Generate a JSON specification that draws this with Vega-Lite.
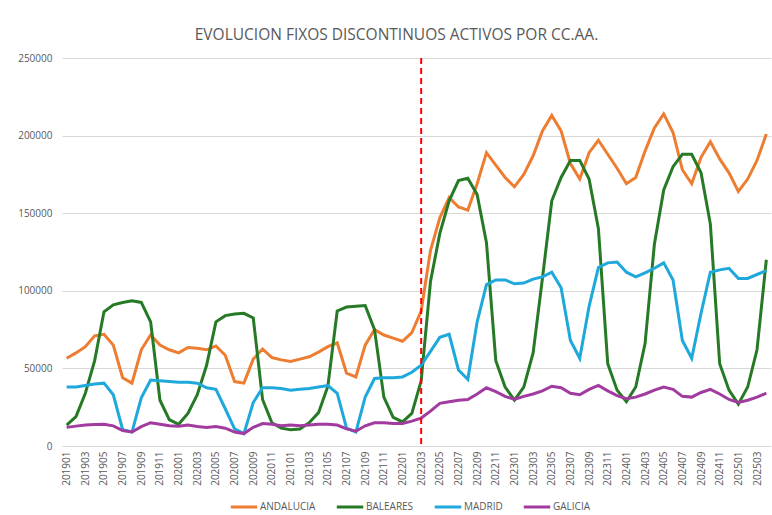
{
  "$schema": "https://vega.github.io/schema/vega-lite/v6.json",
  "width": 709,
  "height": 388,
  "autosize": {"type": "none"},
  "padding": {"left": 62, "top": 58, "right": 1, "bottom": 69},
  "background": "white",
  "title": {"text": "EVOLUCION FIXOS DISCONTINUOS ACTIVOS POR CC.AA.", "fontSize": 15.5, "font": "Open Sans", "fontWeight": "normal", "color": "#595959", "anchor": "middle", "dx": -20, "offset": 10},
  "config": {"view": {"stroke": null}, "font": "Open Sans"},
  "datasets": {
    "fijos": [
      {"mes": "201901", "ANDALUCIA": 56500, "BALEARES": 13500, "MADRID": 38000, "GALICIA": 12000},
      {"mes": "201902", "ANDALUCIA": 60000, "BALEARES": 19000, "MADRID": 38000, "GALICIA": 12800},
      {"mes": "201903", "ANDALUCIA": 64000, "BALEARES": 34000, "MADRID": 39000, "GALICIA": 13500},
      {"mes": "201904", "ANDALUCIA": 71000, "BALEARES": 55000, "MADRID": 40000, "GALICIA": 13800},
      {"mes": "201905", "ANDALUCIA": 72000, "BALEARES": 86500, "MADRID": 40500, "GALICIA": 14000},
      {"mes": "201906", "ANDALUCIA": 65000, "BALEARES": 91000, "MADRID": 33000, "GALICIA": 13000},
      {"mes": "201907", "ANDALUCIA": 44000, "BALEARES": 92500, "MADRID": 10500, "GALICIA": 10000},
      {"mes": "201908", "ANDALUCIA": 40500, "BALEARES": 93500, "MADRID": 9000, "GALICIA": 9000},
      {"mes": "201909", "ANDALUCIA": 62000, "BALEARES": 92500, "MADRID": 31000, "GALICIA": 12500},
      {"mes": "201910", "ANDALUCIA": 71500, "BALEARES": 80000, "MADRID": 42500, "GALICIA": 15000},
      {"mes": "201911", "ANDALUCIA": 65000, "BALEARES": 29500, "MADRID": 42000, "GALICIA": 14000},
      {"mes": "201912", "ANDALUCIA": 62000, "BALEARES": 17000, "MADRID": 41500, "GALICIA": 13000},
      {"mes": "202001", "ANDALUCIA": 60000, "BALEARES": 14000, "MADRID": 41000, "GALICIA": 12800},
      {"mes": "202002", "ANDALUCIA": 63500, "BALEARES": 21000, "MADRID": 41000, "GALICIA": 13500},
      {"mes": "202003", "ANDALUCIA": 63000, "BALEARES": 33000, "MADRID": 40500, "GALICIA": 12500},
      {"mes": "202004", "ANDALUCIA": 62000, "BALEARES": 52000, "MADRID": 37500, "GALICIA": 12000},
      {"mes": "202005", "ANDALUCIA": 64500, "BALEARES": 80000, "MADRID": 36500, "GALICIA": 12500},
      {"mes": "202006", "ANDALUCIA": 58500, "BALEARES": 84000, "MADRID": 24000, "GALICIA": 11500},
      {"mes": "202007", "ANDALUCIA": 41500, "BALEARES": 85000, "MADRID": 11000, "GALICIA": 9000},
      {"mes": "202008", "ANDALUCIA": 40500, "BALEARES": 85500, "MADRID": 8000, "GALICIA": 8000},
      {"mes": "202009", "ANDALUCIA": 56000, "BALEARES": 82500, "MADRID": 28000, "GALICIA": 12000},
      {"mes": "202010", "ANDALUCIA": 62500, "BALEARES": 30000, "MADRID": 37500, "GALICIA": 14500},
      {"mes": "202011", "ANDALUCIA": 57000, "BALEARES": 15000, "MADRID": 37500, "GALICIA": 14000},
      {"mes": "202012", "ANDALUCIA": 55500, "BALEARES": 11500, "MADRID": 37000, "GALICIA": 13000},
      {"mes": "202101", "ANDALUCIA": 54500, "BALEARES": 10500, "MADRID": 36000, "GALICIA": 13500},
      {"mes": "202102", "ANDALUCIA": 56000, "BALEARES": 11000, "MADRID": 36500, "GALICIA": 13000},
      {"mes": "202103", "ANDALUCIA": 57500, "BALEARES": 15000, "MADRID": 37000, "GALICIA": 13500},
      {"mes": "202104", "ANDALUCIA": 60500, "BALEARES": 21500, "MADRID": 38000, "GALICIA": 14000},
      {"mes": "202105", "ANDALUCIA": 64000, "BALEARES": 38500, "MADRID": 39000, "GALICIA": 14000},
      {"mes": "202106", "ANDALUCIA": 66500, "BALEARES": 87000, "MADRID": 34000, "GALICIA": 13500},
      {"mes": "202107", "ANDALUCIA": 47000, "BALEARES": 89500, "MADRID": 11500, "GALICIA": 11000},
      {"mes": "202108", "ANDALUCIA": 44500, "BALEARES": 90000, "MADRID": 9000, "GALICIA": 9500},
      {"mes": "202109", "ANDALUCIA": 65000, "BALEARES": 90500, "MADRID": 31500, "GALICIA": 13000},
      {"mes": "202110", "ANDALUCIA": 75000, "BALEARES": 75000, "MADRID": 43500, "GALICIA": 15000},
      {"mes": "202111", "ANDALUCIA": 71500, "BALEARES": 31500, "MADRID": 44000, "GALICIA": 15000},
      {"mes": "202112", "ANDALUCIA": 69500, "BALEARES": 18500, "MADRID": 44000, "GALICIA": 14500},
      {"mes": "202201", "ANDALUCIA": 67500, "BALEARES": 15500, "MADRID": 44500, "GALICIA": 14500},
      {"mes": "202202", "ANDALUCIA": 73000, "BALEARES": 21000, "MADRID": 47500, "GALICIA": 16000},
      {"mes": "202203", "ANDALUCIA": 87000, "BALEARES": 42000, "MADRID": 52000, "GALICIA": 18000},
      {"mes": "202204", "ANDALUCIA": 126000, "BALEARES": 106000, "MADRID": 61000, "GALICIA": 22500},
      {"mes": "202205", "ANDALUCIA": 147000, "BALEARES": 137000, "MADRID": 70000, "GALICIA": 27500},
      {"mes": "202206", "ANDALUCIA": 160000, "BALEARES": 158000, "MADRID": 72000, "GALICIA": 28500},
      {"mes": "202207", "ANDALUCIA": 154000, "BALEARES": 171000, "MADRID": 49000, "GALICIA": 29500},
      {"mes": "202208", "ANDALUCIA": 152000, "BALEARES": 172500, "MADRID": 43000, "GALICIA": 30000},
      {"mes": "202209", "ANDALUCIA": 169000, "BALEARES": 162000, "MADRID": 80000, "GALICIA": 33500},
      {"mes": "202210", "ANDALUCIA": 189000, "BALEARES": 131000, "MADRID": 104000, "GALICIA": 37500},
      {"mes": "202211", "ANDALUCIA": 181000, "BALEARES": 55000, "MADRID": 107000, "GALICIA": 35000},
      {"mes": "202212", "ANDALUCIA": 173000, "BALEARES": 38000, "MADRID": 107000, "GALICIA": 32000},
      {"mes": "202301", "ANDALUCIA": 167000, "BALEARES": 29500, "MADRID": 104500, "GALICIA": 30000},
      {"mes": "202302", "ANDALUCIA": 175000, "BALEARES": 38000, "MADRID": 105000, "GALICIA": 32000},
      {"mes": "202303", "ANDALUCIA": 187000, "BALEARES": 60000, "MADRID": 107500, "GALICIA": 33500},
      {"mes": "202304", "ANDALUCIA": 203000, "BALEARES": 108000, "MADRID": 109000, "GALICIA": 35500},
      {"mes": "202305", "ANDALUCIA": 213000, "BALEARES": 158000, "MADRID": 112000, "GALICIA": 38500},
      {"mes": "202306", "ANDALUCIA": 203000, "BALEARES": 173000, "MADRID": 102000, "GALICIA": 37500},
      {"mes": "202307", "ANDALUCIA": 182000, "BALEARES": 184000, "MADRID": 68000, "GALICIA": 34000},
      {"mes": "202308", "ANDALUCIA": 172000, "BALEARES": 184000, "MADRID": 56500, "GALICIA": 33000},
      {"mes": "202309", "ANDALUCIA": 189000, "BALEARES": 172000, "MADRID": 90000, "GALICIA": 36500},
      {"mes": "202310", "ANDALUCIA": 197000, "BALEARES": 140000, "MADRID": 115000, "GALICIA": 39000},
      {"mes": "202311", "ANDALUCIA": 188000, "BALEARES": 53000, "MADRID": 118000, "GALICIA": 35500},
      {"mes": "202312", "ANDALUCIA": 179000, "BALEARES": 36000, "MADRID": 118500, "GALICIA": 32500},
      {"mes": "202401", "ANDALUCIA": 169000, "BALEARES": 28500, "MADRID": 112000, "GALICIA": 30500},
      {"mes": "202402", "ANDALUCIA": 173000, "BALEARES": 38000, "MADRID": 109000, "GALICIA": 31500},
      {"mes": "202403", "ANDALUCIA": 190000, "BALEARES": 66000, "MADRID": 111500, "GALICIA": 33500},
      {"mes": "202404", "ANDALUCIA": 205000, "BALEARES": 130000, "MADRID": 114500, "GALICIA": 36000},
      {"mes": "202405", "ANDALUCIA": 214000, "BALEARES": 165000, "MADRID": 118000, "GALICIA": 38000},
      {"mes": "202406", "ANDALUCIA": 202000, "BALEARES": 180000, "MADRID": 107000, "GALICIA": 36500},
      {"mes": "202407", "ANDALUCIA": 178000, "BALEARES": 188000, "MADRID": 68000, "GALICIA": 32000},
      {"mes": "202408", "ANDALUCIA": 169000, "BALEARES": 188000, "MADRID": 56500, "GALICIA": 31500},
      {"mes": "202409", "ANDALUCIA": 186000, "BALEARES": 176000, "MADRID": 85500, "GALICIA": 34500},
      {"mes": "202410", "ANDALUCIA": 196000, "BALEARES": 143000, "MADRID": 112000, "GALICIA": 36500},
      {"mes": "202411", "ANDALUCIA": 185000, "BALEARES": 53000, "MADRID": 113500, "GALICIA": 33500},
      {"mes": "202412", "ANDALUCIA": 176000, "BALEARES": 36000, "MADRID": 114500, "GALICIA": 30000},
      {"mes": "202501", "ANDALUCIA": 164000, "BALEARES": 27000, "MADRID": 108000, "GALICIA": 28000},
      {"mes": "202502", "ANDALUCIA": 172000, "BALEARES": 38000, "MADRID": 108000, "GALICIA": 29500},
      {"mes": "202503", "ANDALUCIA": 184000, "BALEARES": 62000, "MADRID": 110500, "GALICIA": 31500},
      {"mes": "202504", "ANDALUCIA": 201000, "BALEARES": 120000, "MADRID": 113000, "GALICIA": 34000}
    ],
    "corte": [{"mes": "202203"}]
  },
  "layer": [
    {
      "data": {"name": "fijos"},
      "transform": [{"fold": ["ANDALUCIA", "BALEARES", "MADRID", "GALICIA"], "as": ["region", "activos"]}],
      "mark": {"type": "line", "strokeWidth": 3},
      "encoding": {
        "x": {
          "field": "mes", "type": "ordinal",
          "scale": {"type": "point", "padding": 0.5},
          "axis": {
            "title": null, "labelAngle": -90, "ticks": false, "domain": false, "grid": false,
            "labelFontSize": 10, "labelColor": "#595959", "labelPadding": 5,
            "values": ["201901","201903","201905","201907","201909","201911","202001","202003","202005","202007","202009","202011","202101","202103","202105","202107","202109","202111","202201","202203","202205","202207","202209","202211","202301","202303","202305","202307","202309","202311","202401","202403","202405","202407","202409","202411","202501","202503"]
          }
        },
        "y": {
          "field": "activos", "type": "quantitative",
          "scale": {"domain": [0, 250000]},
          "axis": {
            "title": null, "values": [0, 50000, 100000, 150000, 200000, 250000], "format": "d",
            "ticks": false, "domain": false, "gridColor": "#D9D9D9", "gridWidth": 1,
            "labelFontSize": 10, "labelColor": "#595959", "labelPadding": 10
          }
        },
        "color": {
          "field": "region", "type": "nominal",
          "scale": {"domain": ["ANDALUCIA", "BALEARES", "MADRID", "GALICIA"], "range": ["#ED7D31", "#267A26", "#1FA8DC", "#A23BA0"]},
          "legend": {
            "orient": "none", "legendX": 167, "legendY": 434, "direction": "horizontal", "title": null,
            "symbolType": "stroke", "symbolStrokeWidth": 3, "symbolSize": 700,
            "labelFontSize": 10, "labelColor": "#595959", "columnPadding": 14, "labelOffset": 1
          }
        }
      }
    },
    {
      "data": {"name": "corte"},
      "mark": {"type": "rule", "color": "#FF0000", "strokeWidth": 2, "strokeDash": [6, 4]},
      "encoding": {"x": {"field": "mes", "type": "ordinal"}}
    }
  ]
}
